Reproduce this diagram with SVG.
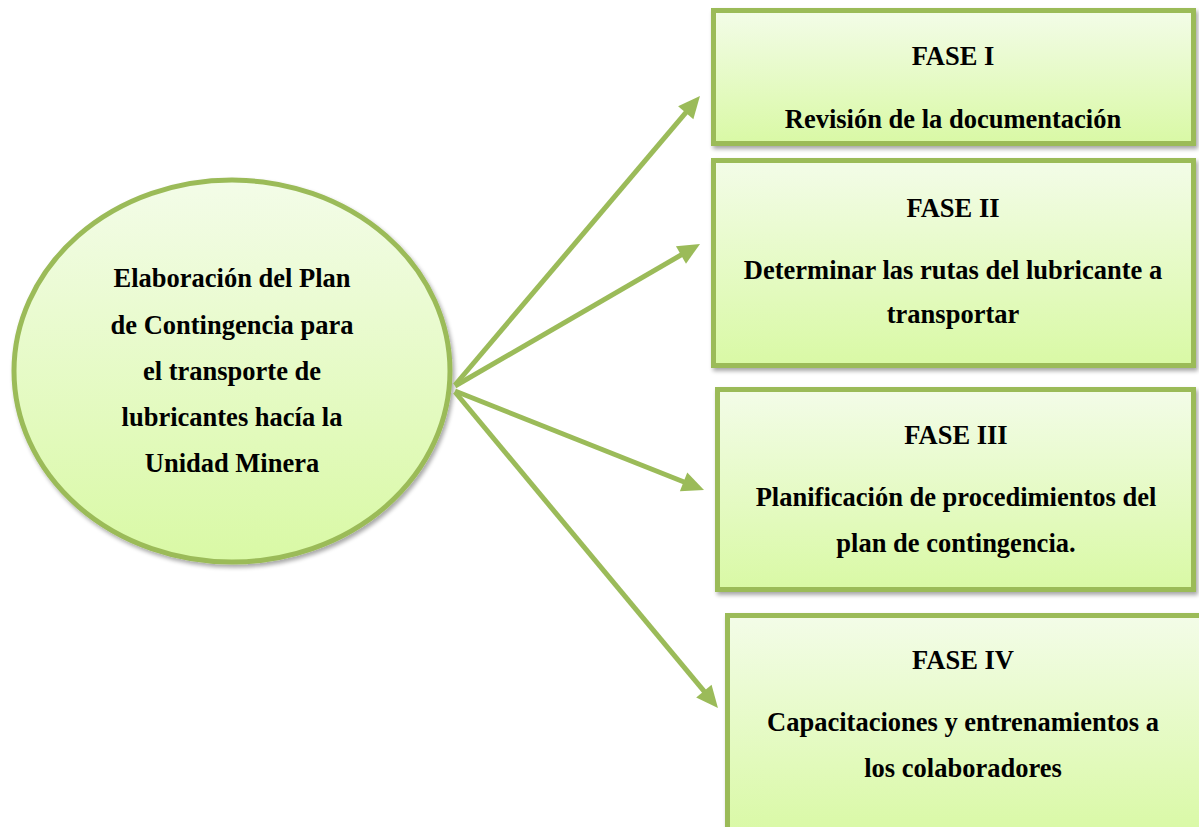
<svg xmlns="http://www.w3.org/2000/svg" width="1199" height="827" viewBox="0 0 1199 827">
<defs>
<linearGradient id="g" x1="0" y1="0" x2="0" y2="1">
<stop offset="0" stop-color="#F3FCE8"/>
<stop offset="1" stop-color="#D9F9A5"/>
</linearGradient>
<filter id="sh" x="-5%" y="-5%" width="112%" height="115%">
<feGaussianBlur in="SourceAlpha" stdDeviation="2"/>
<feOffset dx="2" dy="3" result="b"/>
<feComponentTransfer><feFuncA type="linear" slope="0.35"/></feComponentTransfer>
<feMerge><feMergeNode/><feMergeNode in="SourceGraphic"/></feMerge>
</filter>
<marker id="ah" markerUnits="userSpaceOnUse" markerWidth="24" markerHeight="22" refX="8" refY="10" orient="auto" overflow="visible">
<path d="M0,0 L22,10 L0,20 Z" fill="#9BBB59"/>
</marker>
</defs>
<style>
.box{fill:url(#g);stroke:#9BBB59;stroke-width:5;filter:url(#sh)}
.t{font-family:"Liberation Serif","Times New Roman",serif;font-weight:bold;font-size:26.5px;fill:#000;text-anchor:middle}
.c{stroke:#9BBB59;stroke-width:5;fill:none;marker-end:url(#ah)}
</style>
<g id="center">
<ellipse class="box" cx="232" cy="371" rx="218" ry="191"/>
<text class="t" x="232" y="287">Elaboración del Plan</text>
<text class="t" x="232" y="334">de Contingencia para</text>
<text class="t" x="232" y="380">el transporte de</text>
<text class="t" x="232" y="426">lubricantes hacía la</text>
<text class="t" x="232" y="472">Unidad Minera</text>
</g>
<g id="fase1">
<rect class="box" x="713.5" y="10.5" width="480" height="133"/>
<text class="t" x="953" y="65">FASE I</text>
<text class="t" x="953" y="128">Revisión de la documentación</text>
</g>
<g id="fase2">
<rect class="box" x="713.5" y="160.5" width="480" height="205"/>
<text class="t" x="953" y="217">FASE II</text>
<text class="t" x="953" y="279">Determinar las rutas del lubricante a</text>
<text class="t" x="953" y="323">transportar</text>
</g>
<g id="fase3">
<rect class="box" x="717.5" y="389.5" width="476" height="200"/>
<text class="t" x="956" y="444">FASE III</text>
<text class="t" x="956" y="506">Planificación de procedimientos del</text>
<text class="t" x="956" y="552">plan de contingencia.</text>
</g>
<g id="fase4">
<rect class="box" x="727.5" y="615.5" width="480" height="220"/>
<text class="t" x="963" y="669">FASE IV</text>
<text class="t" x="963" y="731">Capacitaciones y entrenamientos a</text>
<text class="t" x="963" y="777">los colaboradores</text>
</g>
<g id="connectors">
<line class="c" x1="455" y1="385" x2="690.9" y2="106.7"/>
<line class="c" x1="455" y1="386" x2="687.9" y2="251"/>
<line class="c" x1="455" y1="391" x2="691" y2="484.8"/>
<line class="c" x1="455" y1="392" x2="709" y2="697.2"/>
</g>
</svg>
